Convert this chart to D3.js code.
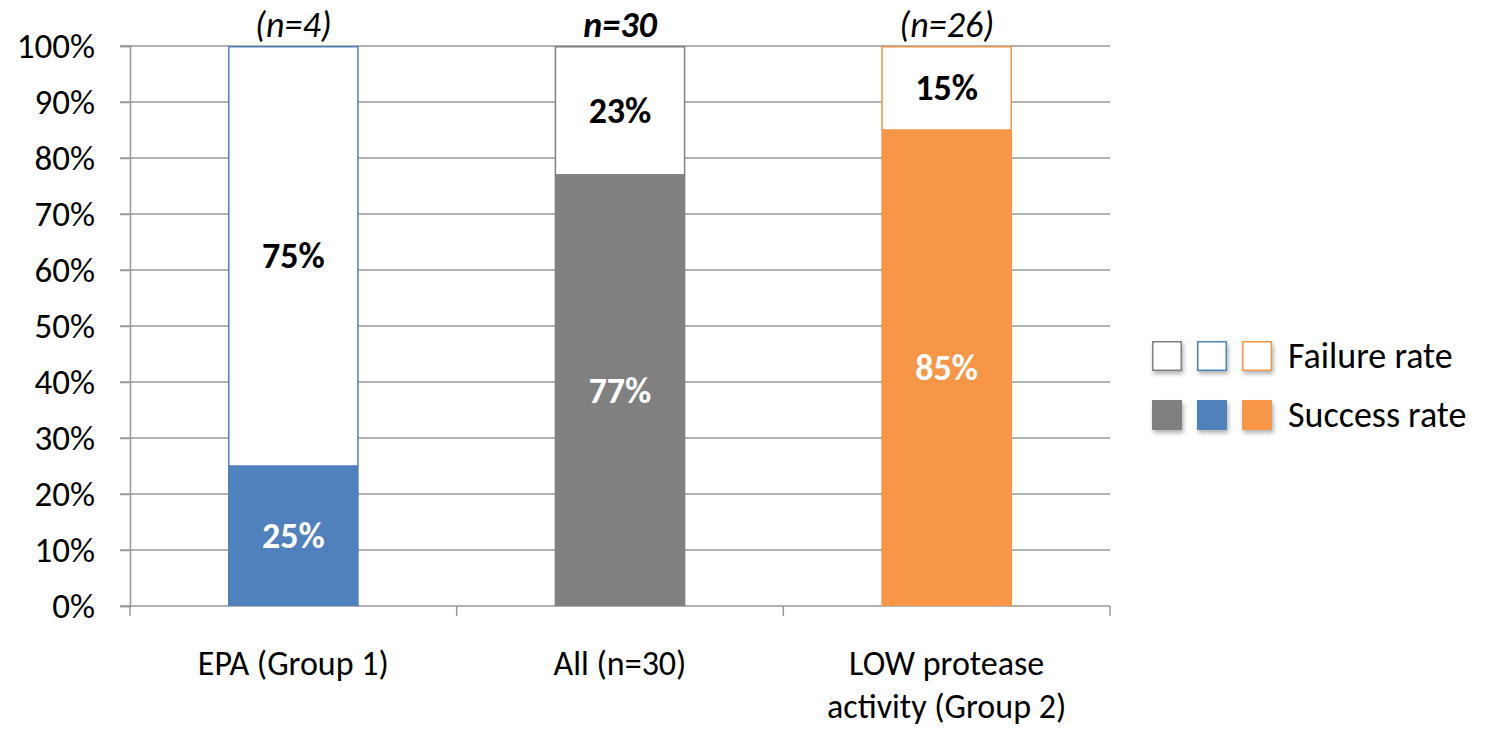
<!DOCTYPE html>
<html><head><meta charset="utf-8">
<script src="https://cdn.jsdelivr.net/npm/d3@7"></script>
<style>body{margin:0;background:#fff}svg{display:block}text{font-family:Carlito,Lato,sans-serif}</style>
</head><body><svg id="c" width="1485" height="729"></svg>
<script>
const categories = ["EPA (Group 1)", "All (n=30)", "LOW protease activity (Group 2)"];
const categoryLines = [["EPA (Group 1)"], ["All (n=30)"], ["LOW protease", "activity (Group 2)"]];
const successRate = [25, 77, 85];
const failureRate = [75, 23, 15];
const nLabels = ["(n=4)", "n=30", "(n=26)"];
const nBold = [false, true, false];
const barColors = ["#4f81bd", "#808080", "#f79646"];
const yTicks = [0,10,20,30,40,50,60,70,80,90,100];
const legendLabels = ["Failure rate", "Success rate"];
const legendOrder = ["#808080", "#4f81bd", "#f79646"];

const FS = 36;
const svg = d3.select("#c");
const L = 130, R = 1110, T = 46, B = 606;
const x = d3.scaleBand().domain(categories).range([L, R]).paddingInner(0.6).paddingOuter(0.3);
const y = d3.scaleLinear().domain([0, 100]).range([B, T]);
const grid = "#989898";

// gridlines
svg.append("g").selectAll("line").data(yTicks.filter(d => d > 0)).join("line")
  .attr("x1", L - 10).attr("x2", R).attr("y1", d => y(d)).attr("y2", d => y(d))
  .attr("stroke", grid).attr("stroke-width", 1.5);

// y axis
const ya = svg.append("g").attr("transform", `translate(${L},0)`)
  .call(d3.axisLeft(y).tickValues(yTicks).tickFormat(d => d + "%").tickSize(10).tickPadding(25));
ya.attr("font-size", 35).attr("font-family", "Carlito,Lato,sans-serif");
ya.select(".domain").attr("stroke", grid).attr("stroke-width", 1.5);
ya.selectAll(".tick line").attr("stroke", grid).attr("stroke-width", 1.5);
ya.selectAll(".tick text").attr("font-size", 35).attr("fill", "#000").attr("dy", "0.34em");

// x axis line + ticks at boundaries
const step = x.step();
const bounds = [0,1,2,3].map(i => L + i * step);
svg.append("line").attr("x1", L - 10).attr("x2", R).attr("y1", B).attr("y2", B).attr("stroke", grid).attr("stroke-width", 1.5);
svg.append("g").selectAll("line").data(bounds).join("line")
  .attr("x1", d => d).attr("x2", d => d).attr("y1", B).attr("y2", B + 10)
  .attr("stroke", grid).attr("stroke-width", 1.5);

// bars
const g = svg.append("g");
categories.forEach((c, i) => {
  const x0 = x(c), w = x.bandwidth();
  g.append("rect").attr("x", x0).attr("width", w)
    .attr("y", y(successRate[i])).attr("height", y(0) - y(successRate[i]))
    .attr("fill", barColors[i]);
  g.append("rect").attr("x", x0 + 0.75).attr("width", w - 1.5)
    .attr("y", y(successRate[i] + failureRate[i]) + 0.75)
    .attr("height", y(successRate[i]) - y(successRate[i] + failureRate[i]) - 0.75)
    .attr("fill", "#fff").attr("stroke", barColors[i]).attr("stroke-width", 1.5);
  g.append("text").attr("x", x0 + w / 2).attr("y", (y(0) + y(successRate[i])) / 2).attr("dy", "0.34em")
    .attr("text-anchor", "middle").attr("font-size", FS).attr("font-weight", "bold").attr("fill", "#fff")
    .text(successRate[i] + "%");
  g.append("text").attr("x", x0 + w / 2).attr("y", (y(successRate[i]) + y(100)) / 2).attr("dy", "0.34em")
    .attr("text-anchor", "middle").attr("font-size", FS).attr("font-weight", "bold").attr("fill", "#000")
    .text(failureRate[i] + "%");
  g.append("text").attr("x", x0 + w / 2).attr("y", 37)
    .attr("text-anchor", "middle").attr("font-size", FS).attr("font-style", "italic")
    .attr("font-weight", nBold[i] ? "bold" : "normal").attr("fill", "#000")
    .text(nLabels[i]);
  categoryLines[i].forEach((line, j) => {
    g.append("text").attr("x", x0 + w / 2).attr("y", 663 + j * 43).attr("dy", "0.34em")
      .attr("text-anchor", "middle").attr("font-size", 34).attr("fill", "#000").text(line);
  });
});

// legend
const defs = svg.append("defs");
const f = defs.append("filter").attr("id", "sh").attr("x", "-30%").attr("y", "-30%").attr("width", "170%").attr("height", "170%");
f.append("feDropShadow").attr("dx", 1.5).attr("dy", 3).attr("stdDeviation", 2).attr("flood-color", "#000").attr("flood-opacity", 0.3);
const lg = svg.append("g");
const lx = [1152, 1197, 1242];
legendLabels.forEach((lab, r) => {
  const cy = r === 0 ? 356 : 415;
  legendOrder.forEach((col, k) => {
    if (r === 0) {
      lg.append("rect").attr("x", lx[k] + 0.75).attr("y", cy - 14.25).attr("width", 28.5).attr("height", 28.5)
        .attr("fill", "#fff").attr("stroke", col).attr("stroke-width", 1.5).attr("filter", "url(#sh)");
    } else {
      lg.append("rect").attr("x", lx[k]).attr("y", cy - 15).attr("width", 30).attr("height", 30)
        .attr("fill", col).attr("filter", "url(#sh)");
    }
  });
  lg.append("text").attr("x", 1288).attr("y", cy).attr("dy", "0.34em").attr("font-size", FS).attr("fill", "#000").text(lab);
});
</script></body></html>
